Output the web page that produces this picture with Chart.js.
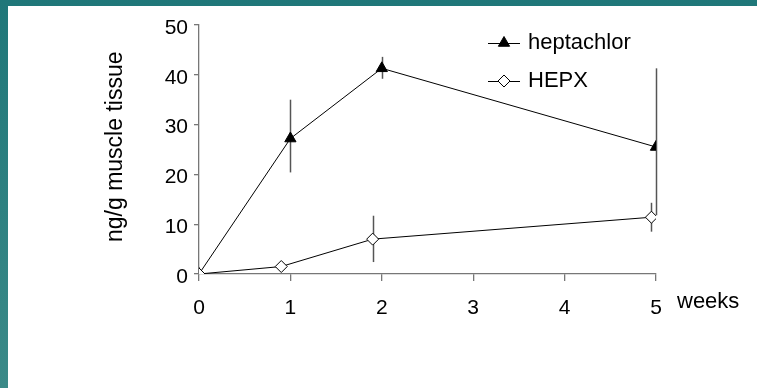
<!DOCTYPE html>
<html>
<head>
<meta charset="utf-8">
<script src="https://cdn.jsdelivr.net/npm/chart.js@4.4.0/dist/chart.umd.min.js"></script>
<style>
  html, body { margin: 0; padding: 0; }
  body {
    width: 757px; height: 388px; overflow: hidden;
    background: linear-gradient(#1f7779, #3b8a88);
    position: relative;
  }
  #frame {
    position: absolute; left: 8px; top: 6px;
    width: 749px; height: 382px; background: #fff;
  }
</style>
</head>
<body>
<div id="frame"><canvas id="chart" width="749" height="382"></canvas></div>
<script>
// weeks after exposure
const heptWeeks = [0, 1, 2, 5];
const heptValues = [0, 27.2, 41.3, 25.5];
const heptLow = [null, 20.4, 39.2, 11.8];
const heptHigh = [null, 35, 43.6, 41.3];

const hepxWeeks = [0, 0.9, 1.9, 4.95];
const hepxValues = [0, 1.5, 7.0, 11.4];
const hepxLow = [null, null, 2.4, 8.5];
const hepxHigh = [null, null, 11.7, 14.3];

const yTicks = [0, 10, 20, 30, 40, 50];
const xTicks = [0, 1, 2, 3, 4, 5];

const FONT = '"Liberation Sans", Arial, sans-serif';
const axisColor = '#777';

function toPoints(xs, ys) {
    return xs.map((x, i) => ({ x: x, y: ys[i] }));
}

// vertical error bars, no caps
const errorBars = {
    id: 'errorBars',
    beforeDatasetsDraw(chart) {
        const ctx = chart.ctx;
        const xs = chart.scales.x, ys = chart.scales.y;
        const sets = [[heptWeeks, heptLow, heptHigh], [hepxWeeks, hepxLow, hepxHigh]];
        ctx.save();
        ctx.strokeStyle = '#555';
        ctx.lineWidth = 1.5;
        sets.forEach(([wk, lo, hi]) => {
            wk.forEach((w, i) => {
                if (lo[i] === null) return;
                const px = Math.round(xs.getPixelForValue(w)) + 0.5;
                ctx.beginPath();
                ctx.moveTo(px, ys.getPixelForValue(lo[i]));
                ctx.lineTo(px, ys.getPixelForValue(hi[i]));
                ctx.stroke();
            });
        });
        ctx.restore();
    }
};

// legend, axis titles
const extras = {
    id: 'extras',
    afterDraw(chart) {
        const ctx = chart.ctx;
        ctx.save();
        ctx.fillStyle = '#000';
        ctx.font = '22px ' + FONT;
        ctx.textBaseline = 'middle';

        const items = [
            { label: 'heptachlor', y: 37, style: 'triangle', fill: '#000' },
            { label: 'HEPX', y: 75, style: 'rectRot', fill: '#fff' }
        ];
        items.forEach(it => {
            ctx.strokeStyle = '#000';
            ctx.lineWidth = 1;
            ctx.beginPath();
            ctx.moveTo(480, it.y + 0.5);
            ctx.lineTo(512, it.y + 0.5);
            ctx.stroke();
            ctx.fillStyle = it.fill;
            Chart.helpers.drawPoint(ctx, { pointStyle: it.style, radius: it.style === 'triangle' ? 6.5 : 6, borderWidth: 1 }, 496, it.y);
            ctx.fillStyle = '#000';
            ctx.fillText(it.label, 520, it.y);
        });

        ctx.fillText('weeks', 669, 296);

        ctx.font = '23px ' + FONT;
        ctx.translate(108, 236);
        ctx.rotate(-Math.PI / 2);
        ctx.textAlign = 'left';
        ctx.fillText('ng/g muscle tissue', 0, 0);
        ctx.restore();
    }
};

new Chart(document.getElementById('chart'), {
    type: 'scatter',
    data: {
        datasets: [{
            label: 'heptachlor',
            data: toPoints(heptWeeks, heptValues),
            showLine: true,
            borderColor: '#000',
            borderWidth: 1,
            backgroundColor: '#000',
            pointStyle: 'triangle',
            pointRadius: 6.5,
            pointBorderWidth: 1,
            order: 1
        }, {
            label: 'HEPX',
            data: toPoints(hepxWeeks, hepxValues),
            showLine: true,
            borderColor: '#000',
            borderWidth: 1,
            pointBackgroundColor: '#fff',
            pointStyle: 'rectRot',
            pointRadius: 6,
            pointBorderWidth: 1,
            order: 0
        }]
    },
    options: {
        responsive: false,
        animation: false,
        layout: { padding: { left: 100, right: 101, top: 19, bottom: 0 } },
        plugins: { legend: { display: false }, tooltip: { enabled: false } },
        scales: {
            x: {
                type: 'linear',
                min: 0, max: 5,
                afterBuildTicks: s => { s.ticks = xTicks.map(v => ({ value: v })); },
                afterFit: s => { s.height = 114; },
                grid: { drawOnChartArea: false, drawTicks: true, tickLength: 7, color: axisColor, lineWidth: 1.3 },
                border: { display: true, color: axisColor, width: 1.3 },
                ticks: { color: '#000', font: { family: FONT, size: 21 }, padding: 15, maxRotation: 0 }
            },
            y: {
                min: 0, max: 50,
                afterBuildTicks: s => { s.ticks = yTicks.map(v => ({ value: v })); },
                afterFit: s => { s.width = 91; },
                grid: { drawOnChartArea: false, drawTicks: true, tickLength: 5, color: axisColor, lineWidth: 1.3 },
                border: { display: true, color: axisColor, width: 1.3 },
                ticks: { color: '#000', font: { family: FONT, size: 21 }, padding: 6, labelOffset: 3 }
            }
        }
    },
    plugins: [errorBars, extras]
});
</script>
</body>
</html>
